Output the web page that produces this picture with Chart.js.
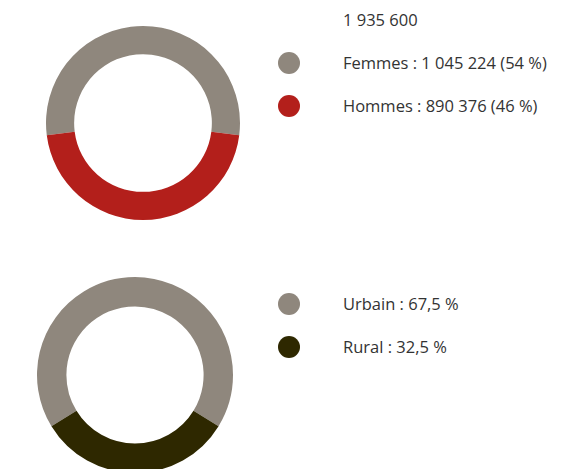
<!DOCTYPE html>
<html>
<head>
<meta charset="utf-8">
<script src="https://cdn.jsdelivr.net/npm/chart.js@4"></script>
<style>
    html, body { margin: 0; padding: 0; background: #fff; }
    body { width: 566px; height: 469px; position: relative; overflow: hidden; font-family: "Open Sans", sans-serif; color: #333; }
    .box { position: absolute; }
    .txt { position: absolute; left: 343px; font-size: 16.5px; line-height: 20px; white-space: nowrap; transform: translateY(-50%); }
    .dot { position: absolute; left: 278px; width: 22px; height: 22px; border-radius: 50%; transform: translateY(-50%); }
</style>
</head>
<body>
<div class="box" id="box1" style="left:46px;top:26px;width:194px;height:194px;"><canvas id="chart1"></canvas></div>
<div class="box" id="box2" style="left:37px;top:277px;width:196px;height:196px;"><canvas id="chart2"></canvas></div>
<div id="legend"></div>
<script>
// Population par sexe
const sexeLabels = ["Femmes", "Hommes"];
const sexeValues = [1045224, 890376];
const sexeTexts = ["Femmes : 1 045 224 (54 %)", "Hommes : 890 376 (46 %)"];
const sexeColors = ["#8f877d", "#b31f1b"];
const totalText = "1 935 600";

// Population par milieu
const milieuLabels = ["Urbain", "Rural"];
const milieuValues = [67.5, 32.5];
const milieuTexts = ["Urbain : 67,5 %", "Rural : 32,5 %"];
const milieuColors = ["#8f877d", "#2e2800"];

function makeDonut(id, labels, values, colors, cutout) {
    const sum = values.reduce((a, b) => a + b, 0);
    // first slice centred on top
    const rot = -(values[0] / sum) * 180;
    return new Chart(document.getElementById(id), {
        type: "doughnut",
        data: {
            labels: labels,
            datasets: [{ data: values, backgroundColor: colors, borderWidth: 0 }]
        },
        options: {
            responsive: true,
            maintainAspectRatio: false,
            animation: false,
            cutout: cutout,
            rotation: rot,
            plugins: { legend: { display: false }, tooltip: { enabled: false } }
        }
    });
}

makeDonut("chart1", sexeLabels, sexeValues, sexeColors, "71%");
makeDonut("chart2", milieuLabels, milieuValues, milieuColors, "70%");

const legend = document.getElementById("legend");
function addText(text, y) {
    const d = document.createElement("div");
    d.className = "txt";
    d.style.top = y + "px";
    d.textContent = text;
    legend.appendChild(d);
}
function addDot(color, y) {
    const d = document.createElement("div");
    d.className = "dot";
    d.style.top = y + "px";
    d.style.background = color;
    legend.appendChild(d);
}

addText(totalText, 20);
const sexeY = [63, 106];
sexeTexts.forEach((t, i) => { addDot(sexeColors[i], sexeY[i]); addText(t, sexeY[i]); });
const milieuY = [304, 347];
milieuTexts.forEach((t, i) => { addDot(milieuColors[i], milieuY[i]); addText(t, milieuY[i]); });
</script>
</body>
</html>
